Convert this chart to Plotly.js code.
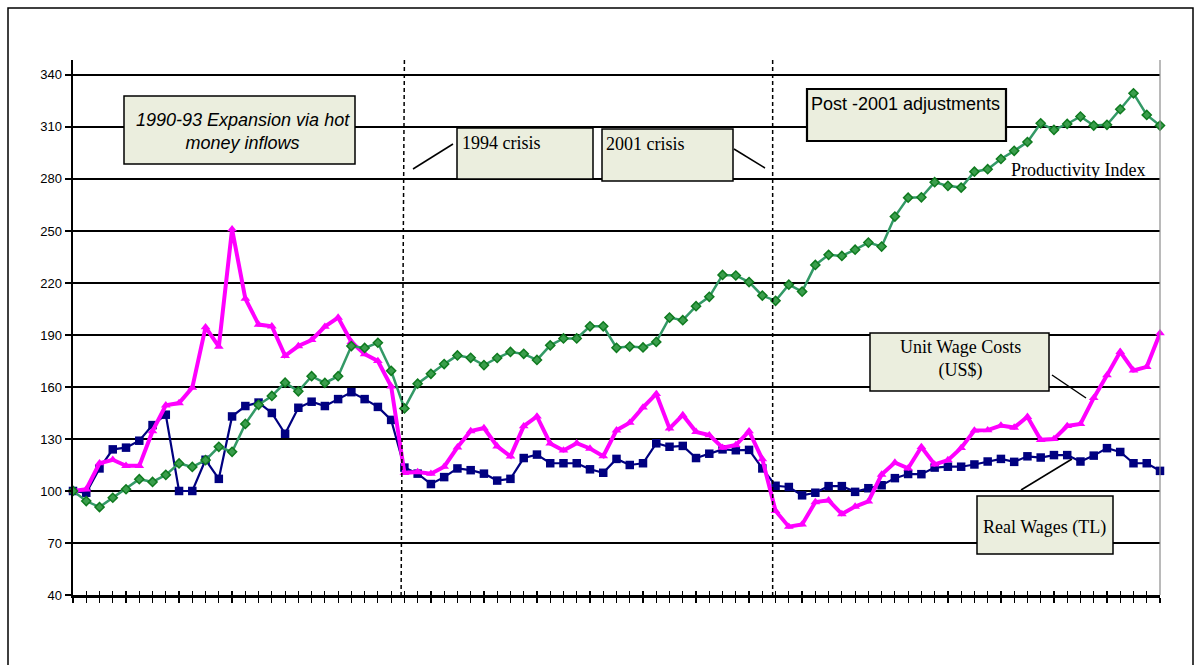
<!DOCTYPE html>
<html>
<head>
<meta charset="utf-8">
<script src="https://cdn.plot.ly/plotly-3.0.1.min.js"></script>
<style>
  html, body { margin: 0; padding: 0; background: #ffffff; }
  #chart { width: 1202px; height: 665px; }
</style>
</head>
<body>
<div id="chart"></div>
<script>
// Quarterly observations, index 1988Q1 = 100
const quarters = [
  "1988Q1","1988Q2","1988Q3","1988Q4","1989Q1","1989Q2","1989Q3","1989Q4",
  "1990Q1","1990Q2","1990Q3","1990Q4","1991Q1","1991Q2","1991Q3","1991Q4",
  "1992Q1","1992Q2","1992Q3","1992Q4","1993Q1","1993Q2","1993Q3","1993Q4",
  "1994Q1","1994Q2","1994Q3","1994Q4","1995Q1","1995Q2","1995Q3","1995Q4",
  "1996Q1","1996Q2","1996Q3","1996Q4","1997Q1","1997Q2","1997Q3","1997Q4",
  "1998Q1","1998Q2","1998Q3","1998Q4","1999Q1","1999Q2","1999Q3","1999Q4",
  "2000Q1","2000Q2","2000Q3","2000Q4","2001Q1","2001Q2","2001Q3","2001Q4",
  "2002Q1","2002Q2","2002Q3","2002Q4","2003Q1","2003Q2","2003Q3","2003Q4",
  "2004Q1","2004Q2","2004Q3","2004Q4","2005Q1","2005Q2","2005Q3","2005Q4",
  "2006Q1","2006Q2","2006Q3","2006Q4","2007Q1","2007Q2","2007Q3","2007Q4",
  "2008Q1","2008Q2","2008Q3"
];

const realWagesTL = [
  100, 99, 113, 124, 125, 129, 138, 144, 100, 100,
  118, 107, 143, 149, 151, 145, 133, 148, 151.5, 149,
  153, 157, 153, 148.5, 141, 113.5, 110, 104, 108, 113,
  112, 110, 106, 107, 119, 121, 116, 116, 116, 112.5,
  110.5, 118.5, 115, 116, 127.5, 125.5, 126, 119, 121.5, 124,
  123.5, 123.7, 113, 103, 102.3, 97.5, 99, 102.8, 102.8, 99.5,
  101.6, 103.3, 107.4, 109.8, 109.7, 113.5, 114, 114, 115.3, 117,
  118.5, 116.8, 120, 119.3, 120.7, 120.7, 117, 120.4, 124.7, 122.5,
  116, 116, 111.6
];

const unitWageCostsUSD = [
  100, 101, 116, 118, 114.5, 114.5, 134.5, 149.4, 150.7, 159.6,
  194.5, 183.2, 251, 211, 196, 195, 178, 183.6, 187.1, 194.8,
  200, 186, 179, 175, 160.4, 110.5, 111, 110, 114, 125.2,
  134.6, 136.3, 125.8, 120, 137.4, 143, 127.4, 123.4, 127.6, 124.5,
  120.1, 135, 139.4, 148.2, 156, 136.1, 143.8, 134.1, 132.2, 125,
  126.5, 134.5, 118.4, 88.5, 79.4, 80.7, 93.6, 94.6, 86.7, 91,
  94, 109.5, 116.4, 113.1, 125.4, 115.3, 117.8, 124.8, 134.9, 135.1,
  137.7, 136.6, 142.8, 129.5, 130, 137.5, 138.7, 153.7, 166.8, 180.3,
  169.5, 171.6, 191
];

const productivityIndex = [
  100, 94.2, 90.7, 96.1, 101, 106.8, 105.2, 109.3, 115.9, 113.9,
  117.8, 125.5, 122.6, 138.7, 149.7, 154.8, 162.5, 157.5, 166.2, 162.3,
  166.2, 183.6, 182.5, 185.5, 169.3, 147.6, 161.9, 167.6, 173.2, 178.2,
  176.8, 172.6, 176.7, 180.2, 179.1, 175.6, 184, 188, 188, 195,
  195, 182.6, 183.3, 182.8, 186, 200, 198.5, 206.6, 212, 224.6,
  224.3, 220.5, 212.7, 209.7, 219, 215, 230.4, 236.2, 235.6, 239.2,
  243.3, 241, 258.3, 269.2, 269.4, 278.1, 276, 275, 284.2, 285.6,
  291.5, 296.2, 301.3, 312.1, 308.3, 311.7, 316, 310.8, 311.2, 320.2,
  329.4, 316.9, 310.8
];

const yTicks = [40, 70, 100, 130, 160, 190, 220, 250, 280, 310, 340];

// Plot area in page pixels, used to place the boxes and notes
const PL = 73, PR = 1160, PT = 60, PB = 595;
const px = x => (x - PL) / (PR - PL);
const py = y => (PB - y) / (PB - PT);

const traces = [
  // empty trace on the overlay axis so its inside ticks are drawn
  { x: quarters, y: quarters.map(() => null), xaxis: "x2", type: "scatter",
    mode: "lines", hoverinfo: "skip", showlegend: false },
  {
    name: "Real Wages (TL)", x: quarters, y: realWagesTL,
    type: "scatter", mode: "lines+markers", cliponaxis: false,
    line: { color: "#000080", width: 2.2 },
    marker: { symbol: "square", size: 8.5, color: "#000080" }
  },
  {
    name: "Unit Wage Costs (US$)", x: quarters, y: unitWageCostsUSD,
    type: "scatter", mode: "lines+markers", cliponaxis: false,
    line: { color: "#FF00FF", width: 4 },
    marker: { symbol: "triangle-up", size: 8.5, color: "#FF00FF" }
  },
  {
    name: "Productivity Index", x: quarters, y: productivityIndex,
    type: "scatter", mode: "lines+markers", cliponaxis: false,
    line: { color: "#339966", width: 2.5 },
    marker: { symbol: "diamond", size: 7, color: "#3a9e4c",
              line: { color: "#0f7a1f", width: 1.5 } }
  }
];

function box(x0, y0, x1, y1, w) {
  return { type: "rect", xref: "paper", yref: "paper",
    x0: px(x0), x1: px(x1), y0: py(y1), y1: py(y0),
    fillcolor: "#EBEEDE", line: { color: "#000000", width: w || 1.5 }, layer: "above" };
}
function seg(x0, y0, x1, y1) {
  return { type: "line", xref: "paper", yref: "paper",
    x0: px(x0), x1: px(x1), y0: py(y0), y1: py(y1),
    line: { color: "#000000", width: 1.5 }, layer: "above" };
}
function note(text, x, y, anchor, font) {
  return { text: text, xref: "paper", yref: "paper", x: px(x), y: py(y),
    xanchor: anchor, yanchor: "middle", showarrow: false, align: "center", font: font };
}

const serif = { family: "Liberation Serif, Times New Roman, serif", size: 18, color: "#000000" };
const sans = { family: "Liberation Sans, Arial, sans-serif", size: 18, color: "#000000" };

const shapes = [
  // crisis markers
  { type: "line", xref: "x", yref: "paper", x0: 25.0, x1: 24.75, y0: 1, y1: 0,
    line: { color: "#000000", width: 1.5, dash: "4px,3px" } },
  { type: "line", xref: "x", yref: "paper", x0: 52.78, x1: 52.78, y0: 1, y1: 0,
    line: { color: "#000000", width: 1.5, dash: "4px,3px" } },
  // right edge of the plot area
  { type: "line", xref: "paper", yref: "paper", x0: 1, x1: 1, y0: 0, y1: 1,
    line: { color: "#8c8c8c", width: 1.2 } },
  // outer frame
  { type: "rect", xref: "paper", yref: "paper",
    x0: px(8), x1: px(1193), y0: py(672), y1: py(8),
    line: { color: "#000000", width: 1.5 } },
  box(124, 96, 355, 164),
  box(457, 128, 593, 179),
  seg(413, 169, 453, 144),
  box(602, 129, 733, 181),
  seg(734, 149, 765, 168),
  box(807, 89, 1006, 141, 2.2),
  box(870, 333, 1049, 391),
  seg(1052, 375, 1086, 398),
  box(977, 496, 1113, 554),
  seg(1021, 490, 1072, 459)
];

const annotations = [
  note("<i>1990-93 Expansion via hot<br>money inflows</i>", 243, 131, "center", sans),
  note("1994 crisis", 460, 143, "left", serif),
  note("2001 crisis", 604, 144, "left", serif),
  note("Post -2001 adjustments", 809, 104, "left", sans),
  note("Productivity Index", 1009, 170, "left", serif),
  note("Unit Wage Costs<br>(US$)", 960, 359, "center", serif),
  note("Real Wages (TL)", 1044, 527, "center", serif)
];

const layout = {
  width: 1202, height: 665,
  margin: { l: PL, r: 1202 - PR, t: PT, b: 665 - PB, pad: 0 },
  paper_bgcolor: "#ffffff", plot_bgcolor: "#ffffff",
  showlegend: false,
  xaxis: {
    type: "category", range: [0, quarters.length - 1],
    tickmode: "linear", tick0: 0, dtick: 1,
    showgrid: false, zeroline: false,
    showline: true, linecolor: "#000000", linewidth: 2.5,
    ticks: "outside", ticklen: 5, tickwidth: 1.2, tickcolor: "#000000",
    showticklabels: false, fixedrange: true
  },
  xaxis2: {
    overlaying: "x", type: "category", range: [0, quarters.length - 1],
    anchor: "y", side: "bottom",
    tickmode: "linear", tick0: 0, dtick: 1,
    showgrid: false, zeroline: false, showline: false,
    ticks: "inside", ticklen: 4, tickwidth: 1.2, tickcolor: "#000000",
    showticklabels: false
  },
  yaxis: {
    range: [40, 348.6], tickmode: "array", tickvals: yTicks,
    showgrid: true, gridcolor: "#000000", gridwidth: 1.6,
    zeroline: false, showline: true, linecolor: "#000000", linewidth: 2.5,
    ticks: "outside", ticklen: 6, tickwidth: 1.5, tickcolor: "#000000",
    tickfont: { family: "Liberation Sans Narrow, Liberation Sans, Arial, sans-serif", size: 13, color: "#000000" },
    fixedrange: true
  },
  shapes: shapes,
  annotations: annotations
};

Plotly.newPlot("chart", traces, layout, { displayModeBar: false, staticPlot: true });
</script>
</body>
</html>
